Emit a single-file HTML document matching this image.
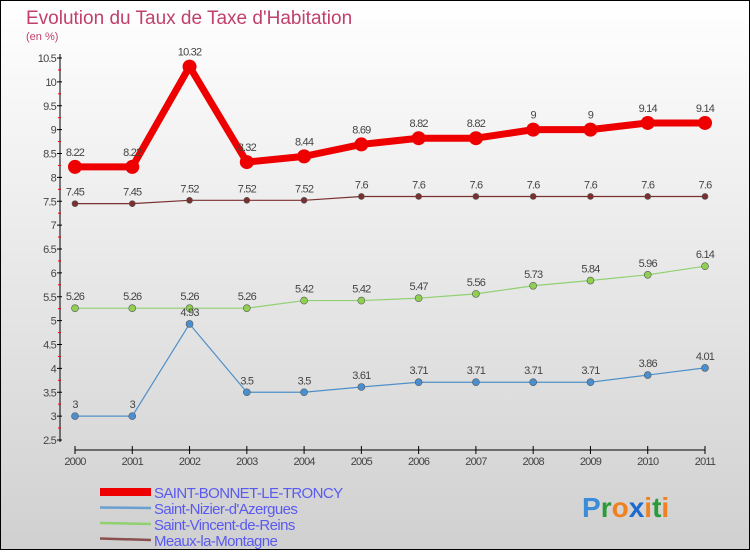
<!DOCTYPE html>
<html><head><meta charset="utf-8"><style>
html,body{margin:0;padding:0}
body{width:750px;height:550px;overflow:hidden;font-family:"Liberation Sans",sans-serif}
</style></head><body>
<svg id="chart" width="750" height="550" xmlns="http://www.w3.org/2000/svg">
<defs><linearGradient id="bg" x1="0" y1="0" x2="0" y2="1"><stop offset="0" stop-color="#ffffff"/><stop offset="1" stop-color="#d0d0d0"/></linearGradient></defs>
<rect x="0.5" y="0.5" width="749" height="549" fill="url(#bg)" stroke="#000"/>
<text x="26" y="24" font-size="19" fill="#c0406a">Evolution du Taux de Taxe d'Habitation</text>
<text x="26" y="40" font-size="11" fill="#c0406a">(en %)</text>
<g id="axes"></g><g id="series"></g><g id="legend"></g>
<text x="582" y="517" font-size="28" font-weight="bold"><tspan fill="#3a8bd8">P</tspan><tspan fill="#2a9a3a">r</tspan><tspan fill="#f08020">o</tspan><tspan fill="#1a6ad0">x</tspan><tspan fill="#f08020">i</tspan><tspan fill="#2a9a3a">t</tspan><tspan fill="#f08020">i</tspan></text>
</svg>
<script>
const years=[2000,2001,2002,2003,2004,2005,2006,2007,2008,2009,2010,2011];
const yTicks=[2.5,3,3.5,4,4.5,5,5.5,6,6.5,7,7.5,8,8.5,9,9.5,10,10.5];
const saintBonnet=[8.22,8.22,10.32,8.32,8.44,8.69,8.82,8.82,9,9,9.14,9.14];
const saintNizier=[3,3,4.93,3.5,3.5,3.61,3.71,3.71,3.71,3.71,3.86,4.01];
const saintVincent=[5.26,5.26,5.26,5.26,5.42,5.42,5.47,5.56,5.73,5.84,5.96,6.14];
const meaux=[7.45,7.45,7.52,7.52,7.52,7.6,7.6,7.6,7.6,7.6,7.6,7.6];
const seriesNames=["SAINT-BONNET-LE-TRONCY","Saint-Nizier-d'Azergues","Saint-Vincent-de-Reins","Meaux-la-Montagne"];
const NS="http://www.w3.org/2000/svg";
const x=i=>75+i*(630/11);
const y=v=>440-(v-2.5)*47.75;
function mk(p,t,a){const e=document.createElementNS(NS,t);for(const k in a)e.setAttribute(k,a[k]);p.appendChild(e);return e;}
const ax=document.getElementById('axes');
let l=mk(ax,'line',{x1:60,y1:54,x2:60,y2:442,stroke:'#000','stroke-width':1});


l=mk(ax,'line',{x1:75,y1:450,x2:705,y2:450,stroke:'#000','stroke-width':1});


yTicks.forEach(v=>{
 mk(ax,'line',{x1:57,y1:y(v),x2:62,y2:y(v),stroke:'#000'});
 if(v<10.5) mk(ax,'line',{x1:58,y1:y(v+0.25),x2:61,y2:y(v+0.25),stroke:'#e00'});
 const t=mk(ax,'text',{x:56,y:y(v)+4,'font-size':11,fill:'#444','text-anchor':'end','letter-spacing':'-0.8'});
 t.textContent=v;
 
 
});
years.forEach((yr,i)=>{
 mk(ax,'line',{x1:x(i),y1:446,x2:x(i),y2:454,stroke:'#000'});
 const t=mk(ax,'text',{x:x(i),y:465,'font-size':11,fill:'#444','text-anchor':'middle','letter-spacing':'-0.8'});
 t.textContent=yr;
 
 
});
const sg=document.getElementById('series');
function draw(data,color,w,r,name,dot){
 const g=mk(sg,'g',{});
 
 
 mk(g,'polyline',{points:data.map((v,i)=>x(i)+','+y(v)).join(' '),fill:'none',stroke:color,'stroke-width':w,'stroke-linejoin':'round'});
 data.forEach((v,i)=>{
  const c=mk(g,'circle',{cx:x(i),cy:y(v),r:r,fill:dot,stroke:'#555','stroke-width':w>3?0:0.6});
  
  
  const t=mk(g,'text',{x:x(i),y:y(v)-(w>3?11:8),'font-size':11,fill:'#444','text-anchor':'middle','letter-spacing':'-0.8'});
  t.textContent=v;
  
  
 });
}
draw(meaux,'#7a3030',1.2,3,'meaux-series','#7a3030');
draw(saintVincent,'#90d070',1.2,3.5,'saint-vincent-series','#90d050');
draw(saintNizier,'#5090c8',1.2,3.5,'saint-nizier-series','#4a90d0');
draw(saintBonnet,'#ee0000',7,7,'saint-bonnet-series','#ee0000');
const lg=document.getElementById('legend');
const lc=['#ee0000','#6aa0d0','#90d070','#8a5050'],lw=[8,2.5,2.5,2.5];
seriesNames.forEach((n,i)=>{
 const yy=492+i*16;
 const g=mk(lg,'g',{});
 
 
 mk(g,'line',{x1:100,y1:yy+i*-0.5,x2:151,y2:yy,stroke:lc[i],'stroke-width':lw[i]});
 const t=mk(g,'text',{x:154,y:yy+6,'font-size':15,fill:'#5a5af0','letter-spacing':'-0.6'});
 t.textContent=n;
});
</script>
</body></html>
